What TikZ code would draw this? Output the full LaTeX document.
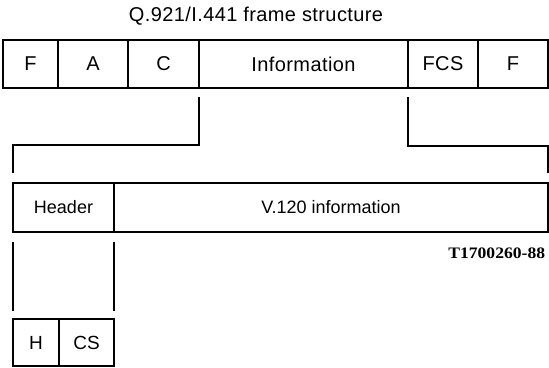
\documentclass[tikz,border=0pt]{standalone}
\usepackage{fontspec}
\setmainfont{Liberation Sans}
\newfontfamily\widefont[LetterSpace=2]{Liberation Sans}
\newfontfamily\figidfont{Liberation Serif}
\usetikzlibrary{calc,positioning}
\tikzset{
  every node/.style={font=\fontsize{18}{20}\selectfont, text=black},
  field/.style={draw=black, line width=1.2pt, inner sep=0pt, outer sep=0pt},
  topfield/.style={field, minimum height=48pt, font=\widefont\fontsize{20}{22}\selectfont},
  midfield/.style={field, minimum height=49pt},
  lowfield/.style={field, minimum height=47pt, font=\fontsize{19}{21}\selectfont},
  link/.style={draw=black, line width=1.2pt},
}
\begin{document}
\begin{tikzpicture}[x=1pt,y=-1pt]
  \useasboundingbox (0,0) rectangle (549,367);
  % Title
  \node[font=\widefont\fontsize{20}{22}\selectfont] (title) at (256,16) {Q.921/I.441 frame structure};
  % Q.921/I.441 frame
  \node[topfield, minimum width=55pt, anchor=north west] (flagA) at (3,40) {F};
  \node[topfield, minimum width=70pt, right=0pt of flagA] (addr) {A};
  \node[topfield, minimum width=71pt, right=0pt of addr] (ctrl) {C};
  \node[topfield, minimum width=209pt, right=0pt of ctrl] (info) {Information};
  \node[topfield, minimum width=70pt, right=0pt of info] (fcs) {FCS};
  \node[topfield, minimum width=70pt, right=0pt of fcs] (flagB) {F};
  % V.120 frame
  \node[midfield, minimum width=101pt, anchor=north west] (hdr) at (13,183) {Header};
  \node[midfield, minimum width=434pt, right=0pt of hdr] (vinfo) {V.120 information};
  % Header octets
  \node[lowfield, minimum width=46pt, anchor=north west] (hoct) at (13,319) {H};
  \node[lowfield, minimum width=55pt, right=0pt of hoct] (csoct) {CS};
  % Figure id
  \node[font=\figidfont\bfseries\fontsize{16}{18}\selectfont, xscale=1.1, anchor=east] (figid) at (549,253) {T1700260-88};
  % Bracket ends
  \coordinate (infoL) at ($(info.south west)+(0,9)$);
  \coordinate (infoR) at ($(fcs.south west)+(0,9)$);
  \coordinate (vL) at ($(hdr.north west)+(0,-10)$);
  \coordinate (vR) at ($(vinfo.north east)+(0,-10)$);
  \coordinate (hL) at ($(hdr.south west)+(0,10)$);
  \coordinate (hR) at ($(hdr.south east)+(0,10)$);
  \coordinate (oL) at ($(hoct.north west)+(0,-8)$);
  \coordinate (oR) at ($(hR |- oL)$);
  % Brackets
  \draw[link] (infoL) -- ++(0,48) -| (vL);
  \draw[link] (infoR) -- ++(0,49) -| (vR);
  \draw[link] (hL) -- (oL);
  \draw[link] (hR) -- (oR);
\end{tikzpicture}
\end{document}
